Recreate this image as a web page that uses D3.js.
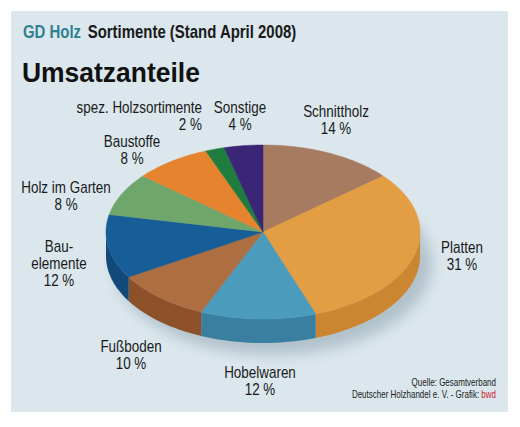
<!DOCTYPE html>
<html lang="de">
<head>
<meta charset="utf-8">
<title>Umsatzanteile</title>
<script src="https://cdn.jsdelivr.net/npm/d3@7"></script>
<style>
  body { margin: 0; background: #fff; }
  text { font-family: "Liberation Sans", Arial, sans-serif; }
</style>
</head>
<body>
<script>
// Daten
var categories = ["Schnittholz", "Platten", "Hobelwaren", "Fußboden", "Bauelemente",
                  "Holz im Garten", "Baustoffe", "spez. Holzsortimente", "Sonstige"];
var shares = [14, 31, 12, 10, 12, 8, 8, 2, 4];
var topColors = ["#a77b60", "#e39d42", "#4b9bbd", "#ad6e42", "#175d97",
                 "#6ea66c", "#e5832e", "#1e7d3e", "#3b2577"];
var sideColors = ["#8a6048", "#cc8530", "#3a7f9f", "#8c5128", "#114a7a",
                  "#558a55", "#c66c1f", "#15602e", "#2c1a5e"];
// label lines per slice
var labelLines = [["Schnittholz", "14 %"], ["Platten", "31 %"], ["Hobelwaren", "12 %"],
                  ["Fußboden", "10 %"], ["Bau-", "elemente", "12 %"],
                  ["Holz im Garten", "8 %"], ["Baustoffe", "8 %"],
                  ["spez. Holzsortimente", "2 %"], ["Sonstige", "4 %"]];
var labelPos = [[336, 117], [462, 253], [260, 378], [131, 352], [59, 252],
                [66, 193], [132, 147], [202, 113], [240, 113]];
var labelAnchor = ["middle", "middle", "middle", "middle", "middle",
                   "middle", "middle", "end", "middle"];

var w = 520, h = 427;
var cx = 263, cy = 232, rx = 157, ry = 87, depth = 24;
var narrow = 0.84;   // horizontal squeeze to imitate the condensed face

var svg = d3.select("body").append("svg")
    .attr("width", w)
    .attr("height", h);

var defs = svg.append("defs");
var f = defs.append("filter").attr("id", "shadow")
    .attr("x", "-20%").attr("y", "-20%").attr("width", "150%").attr("height", "160%");
f.append("feGaussianBlur").attr("stdDeviation", 7);

// text placed at x,y and squeezed horizontally
function squeezed(g, x, y, sx) {
  return g.append("text")
      .attr("transform", "translate(" + x + "," + y + ") scale(" + sx + ",1)");
}

//Panel
svg.append("rect")
    .attr("x", 11).attr("y", 11)
    .attr("width", 497).attr("height", 401)
    .attr("fill", "#dbe7ed");

//Title
var t1 = squeezed(svg, 23, 38, 0.83)
    .attr("font-size", 18)
    .attr("font-weight", "bold");
t1.append("tspan").attr("fill", "#2f8190").text("GD Holz");
t1.append("tspan").attr("fill", "#1a1a1a").attr("dx", 8).text("Sortimente (Stand April 2008)");

squeezed(svg, 22, 82, 0.98)
    .attr("font-size", 27)
    .attr("font-weight", "bold")
    .attr("fill", "#111")
    .text("Umsatzanteile");

//Pie layout
var pie = d3.pie().sort(null).startAngle(0).endAngle(2 * Math.PI);
var arcs = pie(shares);

var px = function(a) { return cx + rx * Math.sin(a); };
var py = function(a) { return cy - ry * Math.cos(a); };
var line = d3.line();

function arcPoints(a0, a1, dy) {
  var pts = [], n = Math.max(2, Math.ceil((a1 - a0) / 0.02));
  for (var i = 0; i <= n; i++) {
    var a = a0 + (a1 - a0) * i / n;
    pts.push([px(a), py(a) + dy]);
  }
  return pts;
}

//Shadow
svg.append("ellipse")
    .attr("cx", cx + 10).attr("cy", cy + depth + 8)
    .attr("rx", rx + 2).attr("ry", ry + 4)
    .attr("fill", "#8fa3ae")
    .attr("opacity", 0.55)
    .attr("filter", "url(#shadow)");

//Sides (front half: angle between PI/2 and 3PI/2)
var sides = svg.append("g").attr("id", "sides");
arcs.forEach(function(d, i) {
  var a0 = Math.max(d.startAngle, Math.PI / 2);
  var a1 = Math.min(d.endAngle, 3 * Math.PI / 2);
  if (a1 <= a0) return;
  var top = arcPoints(a0, a1, 0);
  var bottom = arcPoints(a0, a1, depth).reverse();
  sides.append("path")
      .attr("d", line(top.concat(bottom)) + "Z")
      .attr("fill", sideColors[i]);
});

//Tops
var tops = svg.append("g").attr("id", "tops");
arcs.forEach(function(d, i) {
  var pts = [[cx, cy]].concat(arcPoints(d.startAngle, d.endAngle, 0));
  tops.append("path")
      .attr("d", line(pts) + "Z")
      .attr("fill", topColors[i])
      .attr("stroke", topColors[i])
      .attr("stroke-width", 0.5);
});

//Labels
var labels = svg.append("g").attr("id", "labels");
arcs.forEach(function(d, i) {
  var t = squeezed(labels, labelPos[i][0], labelPos[i][1], narrow)
      .attr("text-anchor", labelAnchor[i])
      .attr("font-size", 16)
      .attr("fill", "#1a1a1a");
  labelLines[i].forEach(function(s, k) {
    t.append("tspan")
        .attr("x", 0)
        .attr("dy", k === 0 ? 0 : 17)
        .text(s);
  });
});

//Source
squeezed(svg, 496, 386, 0.8)
    .attr("text-anchor", "end")
    .attr("font-size", 10)
    .attr("fill", "#1a1a1a")
    .text("Quelle: Gesamtverband");

var src = squeezed(svg, 496, 398, 0.8)
    .attr("text-anchor", "end")
    .attr("font-size", 10)
    .attr("fill", "#1a1a1a");
src.append("tspan").text("Deutscher Holzhandel e. V. - Grafik: ");
src.append("tspan").attr("fill", "#d4202c").text("bwd");
</script>
</body>
</html>
